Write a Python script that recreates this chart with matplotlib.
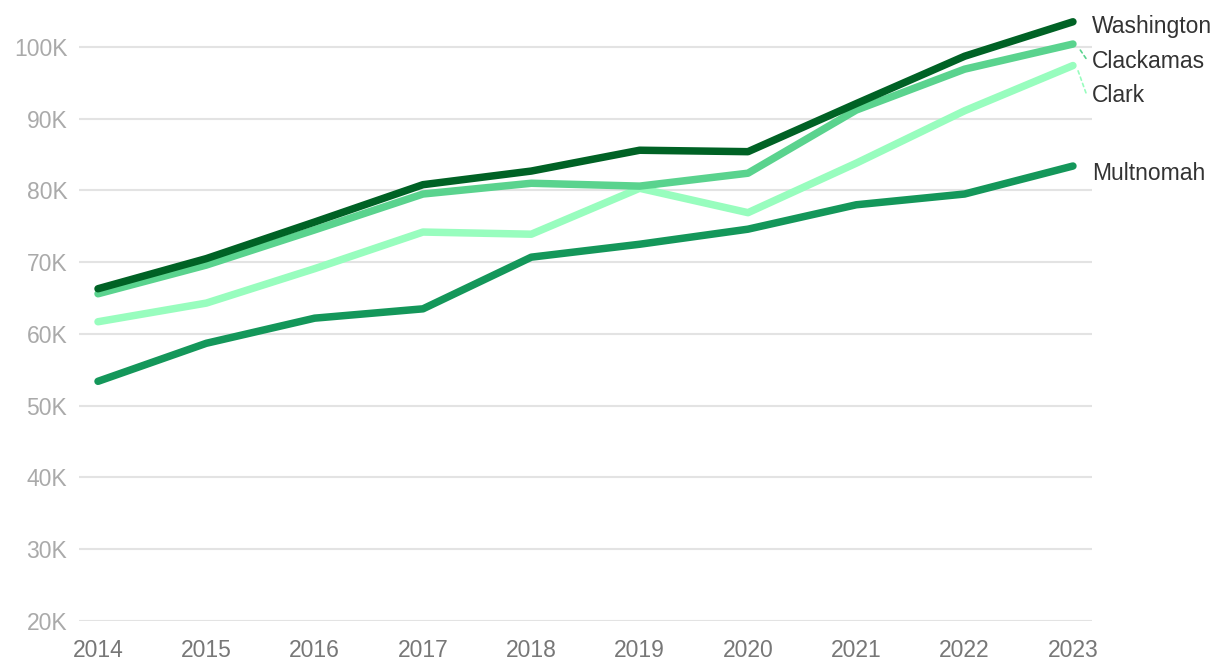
import matplotlib
matplotlib.use("Agg")
import numpy as np
import matplotlib.pyplot as plt
from matplotlib.ticker import FuncFormatter

years = [2014, 2015, 2016, 2017, 2018, 2019, 2020, 2021, 2022, 2023]
washington = [66300, 70500, 75600, 80800, 82700, 85600, 85400, 92100, 98700, 103500]
clackamas = [65600, 69600, 74500, 79500, 81000, 80600, 82400, 91200, 96900, 100400]
clark = [61700, 64300, 69100, 74200, 73900, 80300, 76900, 83800, 91100, 97400]
multnomah = [53400, 58700, 62200, 63500, 70700, 72500, 74600, 78000, 79500, 83400]

names = ["Clark", "Multnomah", "Clackamas", "Washington"]
series = [clark, multnomah, clackamas, washington]
colors = ["#98fdbe", "#14975a", "#5ad38e", "#006225"]
# label y positions (data units) at the right edge
label_y = {"Washington": 102900, "Clackamas": 98000, "Clark": 93200, "Multnomah": 82400}

plt.rcParams['font.family'] = ['Liberation Sans', 'DejaVu Sans']

fig = plt.figure(figsize=(12.2, 6.72), dpi=100)
ax = fig.add_axes([0.0648, 0.0759, 0.8302, 0.9077])

for name, vals, c in zip(names, series, colors):
    ax.plot(years, vals, color=c, lw=5.4, solid_capstyle='round', solid_joinstyle='round', zorder=3)
    ly = label_y[name]
    ax.annotate(name, xy=(years[-1], vals[-1]), xytext=(1092 / 1220, ly),
                textcoords=('figure fraction', 'data'), va='center', ha='left',
                fontsize=16.5, color='#333333', annotation_clip=False)
    if abs(ly - vals[-1]) > 1500:
        ax.annotate("", xy=(years[-1] + 0.03, vals[-1]), xytext=(years[-1] + 0.12, ly + 400),
                    arrowprops=dict(arrowstyle='-', color=c, lw=1.2, ls=(0, (2, 2)),
                                    shrinkA=0, shrinkB=4),
                    annotation_clip=False)

ax.set_xlim(2013.825, 2023.175)
ax.set_ylim(20000, 105000)
ax.set_yticks(np.arange(20000, 100001, 10000))
ax.yaxis.set_major_formatter(FuncFormatter(lambda v, p: f"{int(v / 1000)}K"))
ax.set_xticks(years)
ax.grid(axis='y', color='#e3e3e3', lw=1.5, zorder=0)
for s in ax.spines.values():
    s.set_visible(False)
ax.tick_params(axis='y', length=0, pad=8.5, labelsize=16.5, labelcolor='#aaaaaa')
ax.tick_params(axis='x', length=0, pad=13, labelsize=16.5, labelcolor='#777777')

fig.savefig("out.png", dpi=100)
